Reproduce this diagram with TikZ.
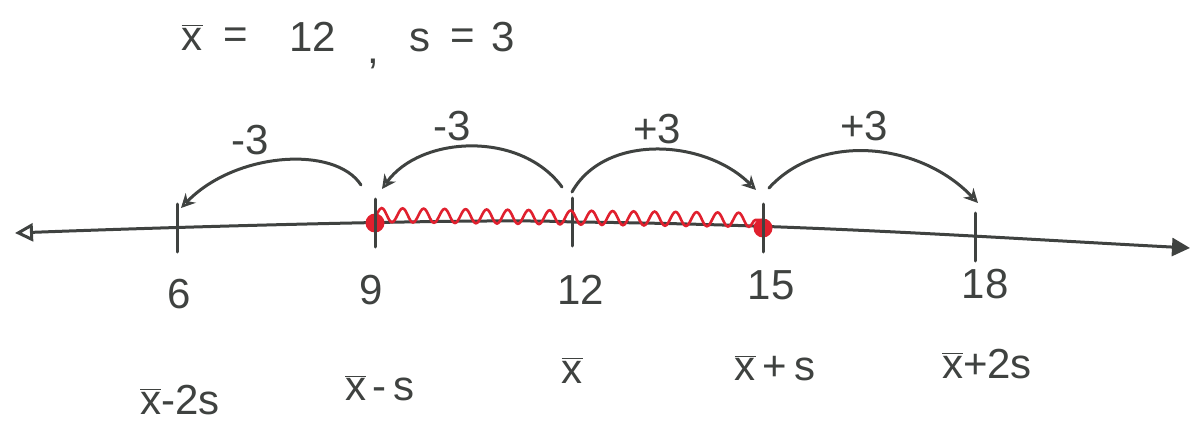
\documentclass[tikz,border=0pt]{standalone}
\usepackage{fontspec}
\setmainfont{Liberation Sans}
\usetikzlibrary{arrows.meta,decorations.pathmorphing}
\definecolor{pencil}{HTML}{3F4240}
\definecolor{redpen}{HTML}{E0202E}
\newcommand{\xb}{$\overline{\mbox{x}}$}
\begin{document}
\begin{tikzpicture}[x=0.5pt,y=-0.5pt,
  pen/.style={draw=pencil,line width=1.5pt,line cap=round},
  jump/.style={pen,-{Stealth[length=7pt,width=7pt,open]}},
  lbl/.style={text=pencil,font=\fontsize{21}{24}\selectfont,inner sep=1pt},
  tick/.style={pen}]
\useasboundingbox (0,0) rectangle (1195,428);
% axis
\coordinate (L) at (15,233);
\coordinate (R) at (1190,248);
\coordinate (t6) at (177,228);
\coordinate (t9) at (375,223);
\coordinate (t12) at (572,222);
\coordinate (t15) at (763,228);
\coordinate (t18) at (975,237);
\draw[pen,{Triangle[open,length=9pt,width=9pt]}-{Triangle[length=9pt,width=9pt]}]
  (L) .. controls (200,226) and (500,218) .. (t12) .. controls (800,224) and (1000,238) .. (R);
\foreach \t in {t6,t9,t12,t15,t18}
  \draw[tick] ([yshift=-12]\t) -- ([yshift=12]\t);
% red interval
\draw[redpen,line width=1.3pt,decorate,decoration={snake,segment length=10.5pt,amplitude=3.5pt}]
  ([yshift=4]t9) -- ([yshift=4]t15);
\fill[redpen] (t9) circle (9.5);
\fill[redpen] (t15) circle (9.5);
\draw[pen] ([yshift=-9]t9) -- ([yshift=9]t9);
\draw[pen] ([yshift=-9]t15) -- ([yshift=9]t15);
% jump arrows
\coordinate (a1s) at (361,185); \coordinate (a1e) at (181,208);
\coordinate (a2s) at (562,187); \coordinate (a2e) at (382,189);
\coordinate (a3s) at (572,192); \coordinate (a3e) at (756,190);
\coordinate (a4s) at (769,188); \coordinate (a4e) at (978,203);
\draw[jump] (a1s) .. controls (335,145) and (235,152) .. (a1e);
\draw[jump] (a2s) .. controls (520,130) and (420,136) .. (a2e);
\draw[jump] (a3s) .. controls (605,133) and (705,139) .. (a3e);
\draw[jump] (a4s) .. controls (820,132) and (920,142) .. (a4e);
\node[lbl] (m1) at (250,140) {-3};
\node[lbl] (m2) at (452,126) {-3};
\node[lbl] (p1) at (657,129) {+3};
\node[lbl] (p2) at (864,126) {+3};
% numbers
\node[lbl] (n6) at (179,294) {6};
\node[lbl] (n9) at (371,290) {9};
\node[lbl] (n12) at (581,290) {12};
\node[lbl] (n15) at (771,285) {15};
\node[lbl] (n18) at (985,284) {18};
% expressions
\node[lbl] (e1) at (180,400) {\xb-2s};
\node[lbl] (e2) at (380,388) {\xb\,-\,s};
\node[lbl] (e3) at (572,370) {\xb};
\node[lbl] (e4) at (775,368) {\xb\,+\,s};
\node[lbl] (e5) at (987,364) {\xb+2s};
% header
\node[lbl] (hx) at (192,37) {\xb};
\node[lbl] (he1) at (236,38) {=};
\node[lbl] (h12) at (313,37) {12};
\node[lbl] (hc) at (373,64) {,};
\node[lbl] (hs) at (420,40) {s};
\node[lbl] (he2) at (463,39) {=};
\node[lbl] (h3) at (503,37) {3};
\end{tikzpicture}
\end{document}
